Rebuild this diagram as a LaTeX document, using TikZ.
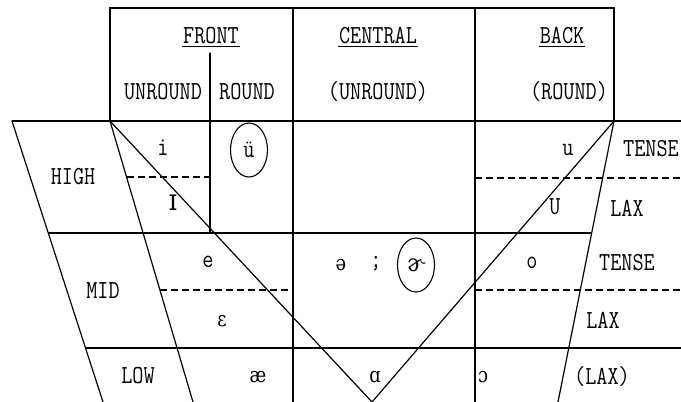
\documentclass[tikz,border=0pt]{standalone}
\usepackage{fontspec}
\usetikzlibrary{shapes.geometric}
\setmonofont[FakeStretch=0.83]{Latin Modern Mono}
\newfontfamily\ipafont[FakeStretch=0.85]{DejaVu Serif}
\begin{document}
\begin{tikzpicture}[x=1pt,y=-1pt,
  rule/.style={line width=1.2pt,line cap=round},
  dashrule/.style={line width=1.2pt,dash pattern=on 7pt off 4pt},
  lbl/.style={font=\fontsize{26}{28}\selectfont\ttfamily,inner sep=1pt},
  ipa/.style={font=\fontsize{21}{24}\selectfont\ipafont,inner sep=1pt},
  ring/.style={draw,ellipse,line width=1.1pt,minimum width=37pt,minimum height=54pt,inner sep=0pt}]
\useasboundingbox (0,0) rectangle (681,402);
% key points
\coordinate (hTL) at (110,8);
\coordinate (hBR) at (614,121);
\coordinate (ltop) at (12,121);
\coordinate (lbot) at (103,402);
\coordinate (itop) at (110,121);
\coordinate (ibot) at (193,402);
\coordinate (vbot) at (372,402);
\coordinate (rtop) at (614,121);
\coordinate (rbot) at (558,402);
\coordinate (c1t) at (293,8);   \coordinate (c1b) at (293,402);
\coordinate (c2t) at (475,8);   \coordinate (c2b) at (475,402);
\coordinate (fdt) at (210,53);  \coordinate (fdb) at (210,233);
\coordinate (topL) at (12,121); \coordinate (topR) at (681,121);
\coordinate (hmL) at (48.6,233); \coordinate (hmR) at (590.5,233);
\coordinate (mlL) at (86,348);  \coordinate (mlR) at (681,348);
\coordinate (d1L) at (126.6,177); \coordinate (d1R) at (210,177);
\coordinate (d2L) at (475,178); \coordinate (d2R) at (681,178);
\coordinate (d3L) at (160,290); \coordinate (d3R) at (293,290);
\coordinate (d4L) at (475,290); \coordinate (d4R) at (681,290);
% frame
\draw[rule] (hTL) rectangle (hBR);
\draw[rule] (c1t) -- (c1b);
\draw[rule] (c2t) -- (c2b);
\draw[rule] (fdt) -- (fdb);
\draw[rule] (topL) -- (topR);
\draw[rule] (hmL) -- (hmR);
\draw[rule] (mlL) -- (mlR);
\draw[dashrule] (d1L) -- (d1R);
\draw[dashrule] (d2L) -- (d2R);
\draw[dashrule] (d3L) -- (d3R);
\draw[dashrule] (d4L) -- (d4R);
\draw[rule] (ltop) -- (lbot);
\draw[rule] (itop) -- (ibot);
\draw[rule] (itop) -- (vbot) -- (rtop);
\draw[rule] (rtop) -- (rbot);
% header
\node[lbl] (front) at (211,36) {FRONT};
\draw[line width=1.2pt] ([yshift=-1pt]front.south west) -- ([yshift=-1pt]front.south east);
\node[lbl] (central) at (378,36) {CENTRAL};
\draw[line width=1.2pt] ([yshift=-1pt]central.south west) -- ([yshift=-1pt]central.south east);
\node[lbl] (back) at (562,36) {BACK};
\draw[line width=1.2pt] ([yshift=-1pt]back.south west) -- ([yshift=-1pt]back.south east);
\node[lbl] (unr) at (163,92) {UNROUND};
\node[lbl] (rnd) at (247,92) {ROUND};
\node[lbl] (cunr) at (378,92) {(UNROUND)};
\node[lbl] (brnd) at (569,92) {(ROUND)};
% height labels
\node[lbl] (high) at (73,177) {HIGH};
\node[lbl] (mid) at (103,291) {MID};
\node[lbl] (low) at (138,376) {LOW};
% right labels
\node[lbl] (t1) at (651,149) {TENSE};
\node[lbl] (l1) at (627,208) {LAX};
\node[lbl] (t2) at (627,263) {TENSE};
\node[lbl] (l2) at (603,320) {LAX};
\node[lbl] (l3) at (602,377) {(LAX)};
% vowels
\node[lbl] (vi) at (163,148) {i};
\node[lbl,ring] (vu) at (249,150) {ü};
\node[ipa,font=\fontsize{30}{32}\selectfont\ipafont] (vI) at (173,203) {ɪ};
\node[lbl] (vuu) at (568,150) {u};
\node[lbl] (vU) at (555,207) {U};
\node[lbl] (ve) at (208,262) {e};
\node[ipa] (vschwa) at (341,265) {ə};
\node[lbl] (semi) at (376,264) {;};
\node[ipa,ring,font=\fontsize{24}{26}\selectfont\ipafont] (vhook) at (416,265) {ɚ};
\node[lbl] (vo) at (532,263) {o};
\node[ipa] (veps) at (222,321) {ɛ};
\node[ipa] (vae) at (258,377) {æ};
\node[ipa] (va) at (375,377) {ɑ};
\node[ipa] (vc) at (483,377) {ɔ};
\end{tikzpicture}
\end{document}
